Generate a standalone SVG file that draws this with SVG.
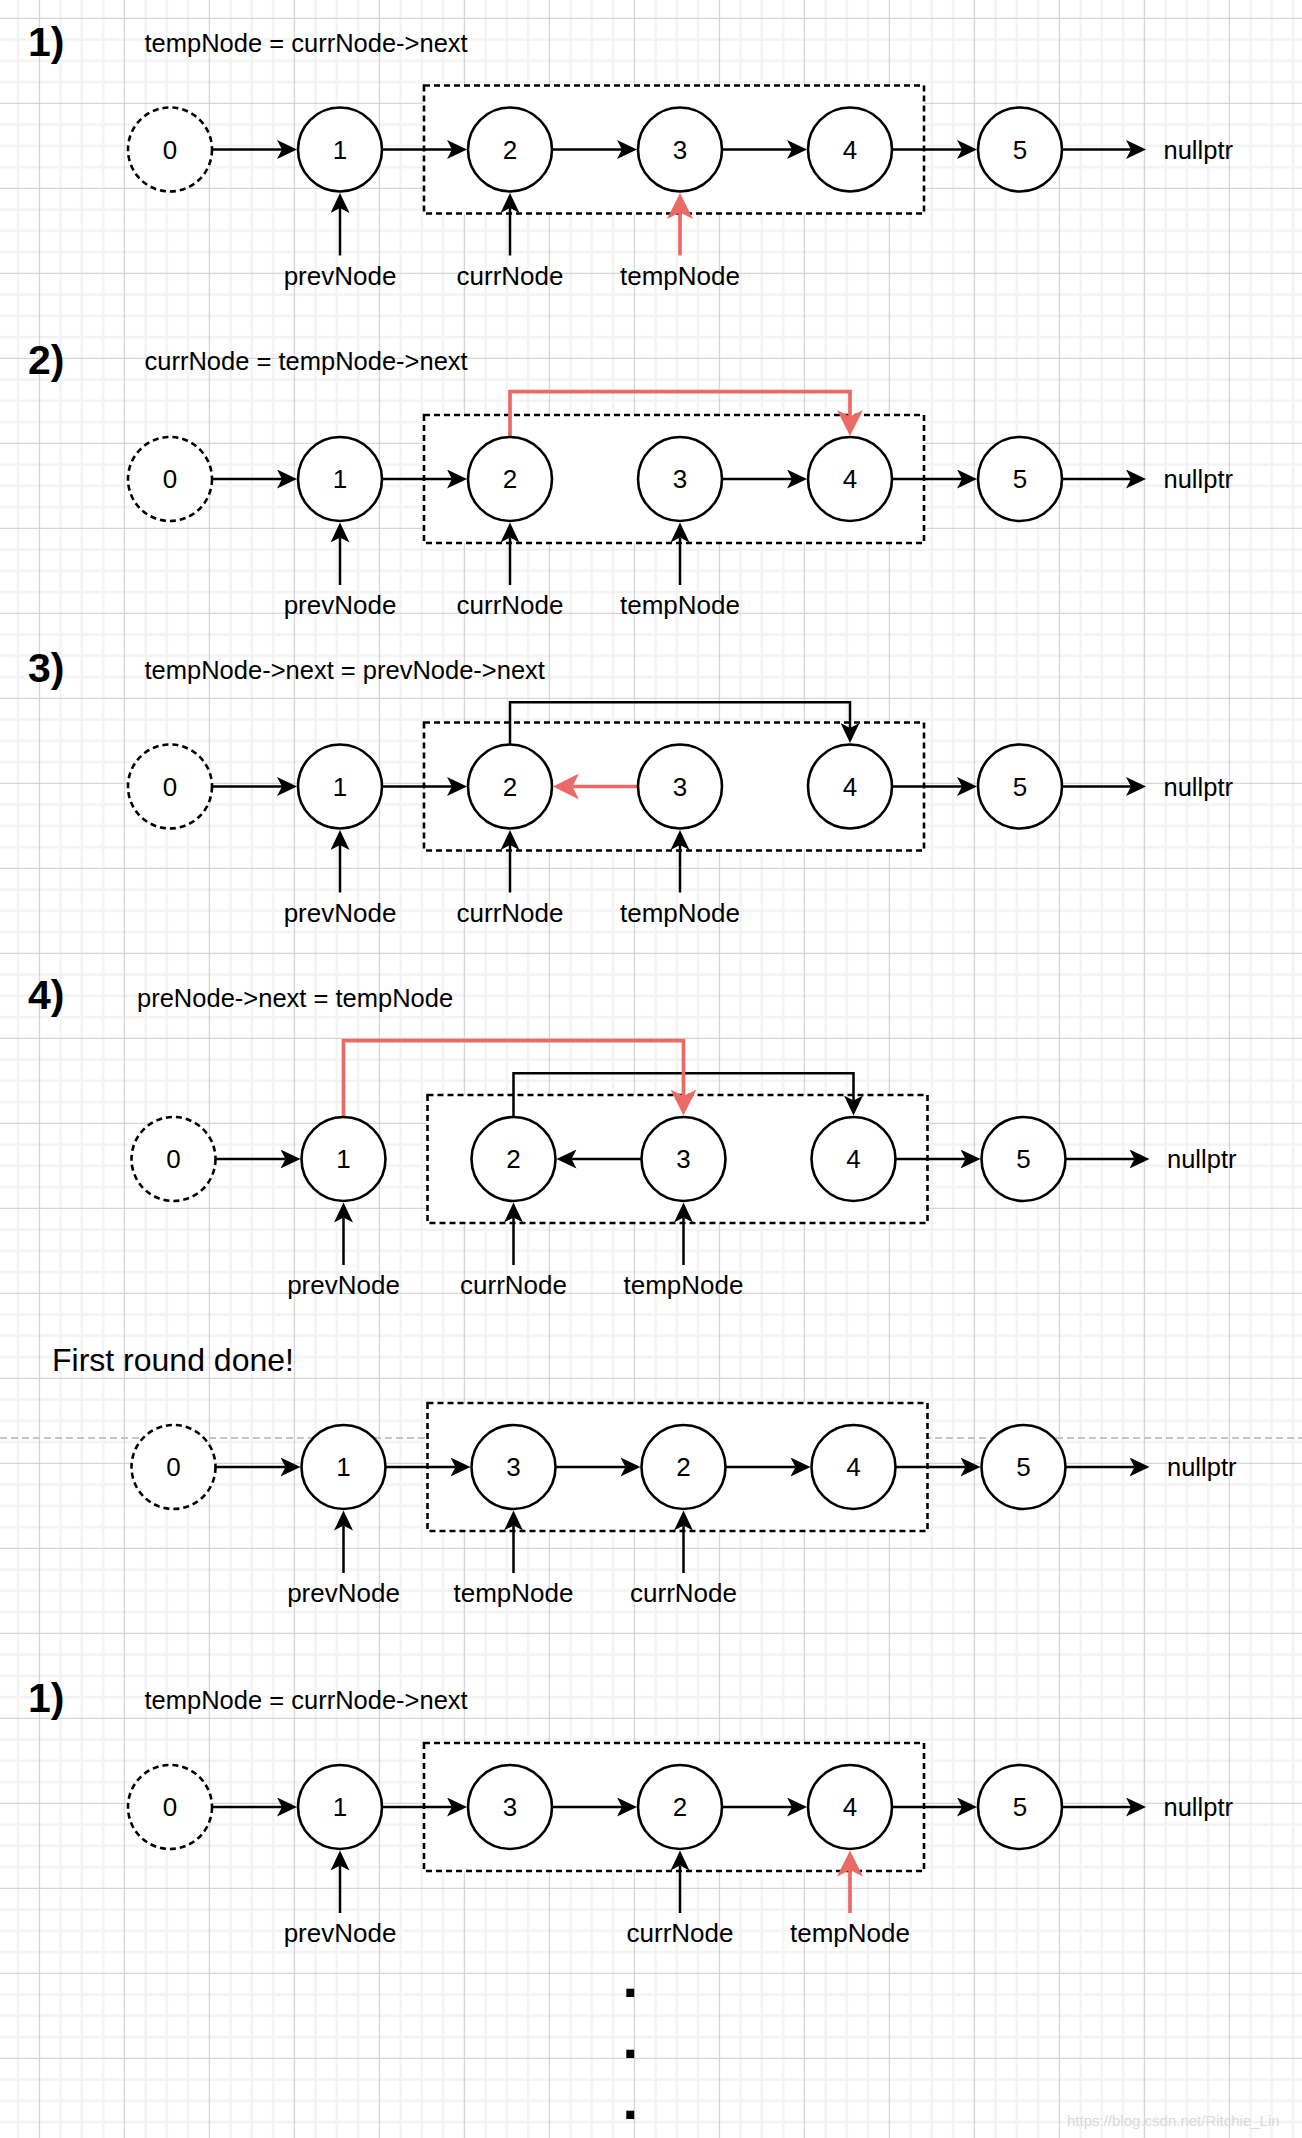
<svg xmlns="http://www.w3.org/2000/svg" width="1302" height="2138" viewBox="0 0 1302 2138">
<defs>
<pattern id="grid" x="38.8" y="17.8" width="85" height="85" patternUnits="userSpaceOnUse">
<rect width="85" height="85" fill="#fff"/>
<path d="M21.75 0V85M43 0V85M64.25 0V85M0 21.75H85M0 43H85M0 64.25H85" stroke="#f3f3f3" stroke-width="2.5"/>
<path d="M0.5 0V85M0 0.5H85" stroke="#cdcdcd" stroke-width="1.2"/>
</pattern>
<marker id="ab" viewBox="0 0 20 19" refX="5" refY="9.5" markerWidth="20" markerHeight="19" markerUnits="userSpaceOnUse" orient="auto"><path d="M20,9.5 L0,0 L5,9.5 L0,19 Z" fill="#000"/></marker>
<marker id="ar" viewBox="0 0 26 26" refX="6.5" refY="13" markerWidth="26" markerHeight="26" markerUnits="userSpaceOnUse" orient="auto"><path d="M26,13 L0,0 L6.5,13 L0,26 Z" fill="#EA6B66"/></marker>
<style>
text{font-family:"Liberation Sans",Arial,Helvetica,sans-serif;fill:#000}
.t{font-size:25.5px}
.n{font-size:26px;text-anchor:middle}
.h{font-size:41px;font-weight:bold}
.c{fill:#fff;stroke:#000;stroke-width:2.6}
.d{fill:#fff;stroke:#000;stroke-width:2.6;stroke-dasharray:6 4}
.e{fill:none;stroke:#000;stroke-width:2.5;marker-end:url(#ab)}
.r{fill:none;stroke:#EA6B66;stroke-width:3.7;marker-end:url(#ar)}
</style>
</defs>
<rect width="1302" height="2138" fill="url(#grid)"/>
<line x1="0" y1="1438" x2="1302" y2="1438" stroke="#c4c4c4" stroke-width="2" stroke-dasharray="7 4"/>

<!-- titles -->
<g id="titles">
<text class="h" x="28" y="56">1)</text>
<text class="t" x="144.5" y="52">tempNode = currNode-&gt;next</text>
<text class="h" x="28" y="373.5">2)</text>
<text class="t" x="144.5" y="369.5">currNode = tempNode-&gt;next</text>
<text class="h" x="28" y="682">3)</text>
<text class="t" x="144.5" y="679">tempNode-&gt;next = prevNode-&gt;next</text>
<text class="h" x="28" y="1009">4)</text>
<text class="t" x="137" y="1007">preNode-&gt;next = tempNode</text>
<text x="52" y="1371" style="font-size:32px">First round done!</text>
<text class="h" x="28" y="1711.5">1)</text>
<text class="t" x="144.5" y="1708.5">tempNode = currNode-&gt;next</text>
</g>

<!-- Section 1 -->
<g id="s1" transform="translate(0,149.5)">
<rect id="s1-box" class="d" x="424" y="-64" width="500" height="128"/>
<g id="s1-edges">
<path class="e" d="M212,0H282"/><path class="e" d="M382,0H452"/><path class="e" d="M552,0H622"/><path class="e" d="M722,0H792"/><path class="e" d="M892,0H962"/><path class="e" d="M1062,0H1131"/>
<path class="e" d="M340,106V58.5"/><path class="e" d="M510,106V58.5"/><path class="r" d="M680,106V63"/>
</g>
<g id="s1-n0"><circle class="d" cx="170" cy="0" r="42"/><text class="n" x="170" y="9">0</text></g>
<g id="s1-n1"><circle class="c" cx="340" cy="0" r="42"/><text class="n" x="340" y="9">1</text></g>
<g id="s1-n2"><circle class="c" cx="510" cy="0" r="42"/><text class="n" x="510" y="9">2</text></g>
<g id="s1-n3"><circle class="c" cx="680" cy="0" r="42"/><text class="n" x="680" y="9">3</text></g>
<g id="s1-n4"><circle class="c" cx="850" cy="0" r="42"/><text class="n" x="850" y="9">4</text></g>
<g id="s1-n5"><circle class="c" cx="1020" cy="0" r="42"/><text class="n" x="1020" y="9">5</text></g>
<g id="s1-null"><text class="t" x="1163.5" y="9">nullptr</text></g>
<g id="s1-labels"><text class="n" x="340" y="135">prevNode</text><text class="n" x="510" y="135">currNode</text><text class="n" x="680" y="135">tempNode</text></g>
</g>

<!-- Section 2 -->
<g id="s2" transform="translate(0,479)">
<rect id="s2-box" class="d" x="424" y="-64" width="500" height="128"/>
<g id="s2-edges">
<path class="e" d="M212,0H282"/><path class="e" d="M382,0H452"/><path class="e" d="M722,0H792"/><path class="e" d="M892,0H962"/><path class="e" d="M1062,0H1131"/>
<path class="r" d="M510,-42V-87.3H850V-62.5"/>
<path class="e" d="M340,106V58.5"/><path class="e" d="M510,106V58.5"/><path class="e" d="M680,106V58.5"/>
</g>
<g id="s2-n0"><circle class="d" cx="170" cy="0" r="42"/><text class="n" x="170" y="9">0</text></g>
<g id="s2-n1"><circle class="c" cx="340" cy="0" r="42"/><text class="n" x="340" y="9">1</text></g>
<g id="s2-n2"><circle class="c" cx="510" cy="0" r="42"/><text class="n" x="510" y="9">2</text></g>
<g id="s2-n3"><circle class="c" cx="680" cy="0" r="42"/><text class="n" x="680" y="9">3</text></g>
<g id="s2-n4"><circle class="c" cx="850" cy="0" r="42"/><text class="n" x="850" y="9">4</text></g>
<g id="s2-n5"><circle class="c" cx="1020" cy="0" r="42"/><text class="n" x="1020" y="9">5</text></g>
<g id="s2-null"><text class="t" x="1163.5" y="9">nullptr</text></g>
<g id="s2-labels"><text class="n" x="340" y="135">prevNode</text><text class="n" x="510" y="135">currNode</text><text class="n" x="680" y="135">tempNode</text></g>
</g>

<!-- Section 3 -->
<g id="s3" transform="translate(0,786.5)">
<rect id="s3-box" class="d" x="424" y="-64" width="500" height="128"/>
<g id="s3-edges">
<path class="e" d="M212,0H282"/><path class="e" d="M382,0H452"/><path class="e" d="M892,0H962"/><path class="e" d="M1062,0H1131"/>
<path class="e" d="M510,-42V-84.2H850V-58.5"/>
<path class="r" d="M638,0H572.5"/>
<path class="e" d="M340,106V58.5"/><path class="e" d="M510,106V58.5"/><path class="e" d="M680,106V58.5"/>
</g>
<g id="s3-n0"><circle class="d" cx="170" cy="0" r="42"/><text class="n" x="170" y="9">0</text></g>
<g id="s3-n1"><circle class="c" cx="340" cy="0" r="42"/><text class="n" x="340" y="9">1</text></g>
<g id="s3-n2"><circle class="c" cx="510" cy="0" r="42"/><text class="n" x="510" y="9">2</text></g>
<g id="s3-n3"><circle class="c" cx="680" cy="0" r="42"/><text class="n" x="680" y="9">3</text></g>
<g id="s3-n4"><circle class="c" cx="850" cy="0" r="42"/><text class="n" x="850" y="9">4</text></g>
<g id="s3-n5"><circle class="c" cx="1020" cy="0" r="42"/><text class="n" x="1020" y="9">5</text></g>
<g id="s3-null"><text class="t" x="1163.5" y="9">nullptr</text></g>
<g id="s3-labels"><text class="n" x="340" y="135">prevNode</text><text class="n" x="510" y="135">currNode</text><text class="n" x="680" y="135">tempNode</text></g>
</g>

<!-- Section 4 -->
<g id="s4" transform="translate(3.5,1159)">
<rect id="s4-box" class="d" x="424" y="-64" width="500" height="128"/>
<g id="s4-edges">
<path class="e" d="M212,0H282"/><path class="e" d="M638,0H568"/><path class="e" d="M892,0H962"/><path class="e" d="M1062,0H1131"/>
<path class="e" d="M510,-42V-85.7H850V-58.5"/>
<path class="r" d="M340,-42V-118.3H680V-63"/>
<path class="e" d="M340,106V58.5"/><path class="e" d="M510,106V58.5"/><path class="e" d="M680,106V58.5"/>
</g>
<g id="s4-n0"><circle class="d" cx="170" cy="0" r="42"/><text class="n" x="170" y="9">0</text></g>
<g id="s4-n1"><circle class="c" cx="340" cy="0" r="42"/><text class="n" x="340" y="9">1</text></g>
<g id="s4-n2"><circle class="c" cx="510" cy="0" r="42"/><text class="n" x="510" y="9">2</text></g>
<g id="s4-n3"><circle class="c" cx="680" cy="0" r="42"/><text class="n" x="680" y="9">3</text></g>
<g id="s4-n4"><circle class="c" cx="850" cy="0" r="42"/><text class="n" x="850" y="9">4</text></g>
<g id="s4-n5"><circle class="c" cx="1020" cy="0" r="42"/><text class="n" x="1020" y="9">5</text></g>
<g id="s4-null"><text class="t" x="1163.5" y="9">nullptr</text></g>
<g id="s4-labels"><text class="n" x="340" y="135">prevNode</text><text class="n" x="510" y="135">currNode</text><text class="n" x="680" y="135">tempNode</text></g>
</g>

<!-- Section 5 -->
<g id="s5" transform="translate(3.5,1467)">
<rect id="s5-box" class="d" x="424" y="-64" width="500" height="128"/>
<g id="s5-edges">
<path class="e" d="M212,0H282"/><path class="e" d="M382,0H452"/><path class="e" d="M552,0H622"/><path class="e" d="M722,0H792"/><path class="e" d="M892,0H962"/><path class="e" d="M1062,0H1131"/>
<path class="e" d="M340,106V58.5"/><path class="e" d="M510,106V58.5"/><path class="e" d="M680,106V58.5"/>
</g>
<g id="s5-n0"><circle class="d" cx="170" cy="0" r="42"/><text class="n" x="170" y="9">0</text></g>
<g id="s5-n1"><circle class="c" cx="340" cy="0" r="42"/><text class="n" x="340" y="9">1</text></g>
<g id="s5-n3"><circle class="c" cx="510" cy="0" r="42"/><text class="n" x="510" y="9">3</text></g>
<g id="s5-n2"><circle class="c" cx="680" cy="0" r="42"/><text class="n" x="680" y="9">2</text></g>
<g id="s5-n4"><circle class="c" cx="850" cy="0" r="42"/><text class="n" x="850" y="9">4</text></g>
<g id="s5-n5"><circle class="c" cx="1020" cy="0" r="42"/><text class="n" x="1020" y="9">5</text></g>
<g id="s5-null"><text class="t" x="1163.5" y="9">nullptr</text></g>
<g id="s5-labels"><text class="n" x="340" y="135">prevNode</text><text class="n" x="510" y="135">tempNode</text><text class="n" x="680" y="135">currNode</text></g>
</g>

<!-- Section 6 -->
<g id="s6" transform="translate(0,1807)">
<rect id="s6-box" class="d" x="424" y="-64" width="500" height="128"/>
<g id="s6-edges">
<path class="e" d="M212,0H282"/><path class="e" d="M382,0H452"/><path class="e" d="M552,0H622"/><path class="e" d="M722,0H792"/><path class="e" d="M892,0H962"/><path class="e" d="M1062,0H1131"/>
<path class="e" d="M340,106V58.5"/><path class="e" d="M680,106V58.5"/><path class="r" d="M850,106V63"/>
</g>
<g id="s6-n0"><circle class="d" cx="170" cy="0" r="42"/><text class="n" x="170" y="9">0</text></g>
<g id="s6-n1"><circle class="c" cx="340" cy="0" r="42"/><text class="n" x="340" y="9">1</text></g>
<g id="s6-n3"><circle class="c" cx="510" cy="0" r="42"/><text class="n" x="510" y="9">3</text></g>
<g id="s6-n2"><circle class="c" cx="680" cy="0" r="42"/><text class="n" x="680" y="9">2</text></g>
<g id="s6-n4"><circle class="c" cx="850" cy="0" r="42"/><text class="n" x="850" y="9">4</text></g>
<g id="s6-n5"><circle class="c" cx="1020" cy="0" r="42"/><text class="n" x="1020" y="9">5</text></g>
<g id="s6-null"><text class="t" x="1163.5" y="9">nullptr</text></g>
<g id="s6-labels"><text class="n" x="340" y="135">prevNode</text><text class="n" x="680" y="135">currNode</text><text class="n" x="850" y="135">tempNode</text></g>
</g>

<g id="ellipsis">
<text x="630.3" y="1996.7" style="font-size:56px;font-weight:bold;text-anchor:middle">.</text>
<text x="630.3" y="2057.7" style="font-size:56px;font-weight:bold;text-anchor:middle">.</text>
<text x="630.3" y="2118.7" style="font-size:56px;font-weight:bold;text-anchor:middle">.</text>
</g>
<text x="1067" y="2126" style="font-size:15px;fill:#d9d9d9">https://blog.csdn.net/Ritchie_Lin</text>
</svg>
